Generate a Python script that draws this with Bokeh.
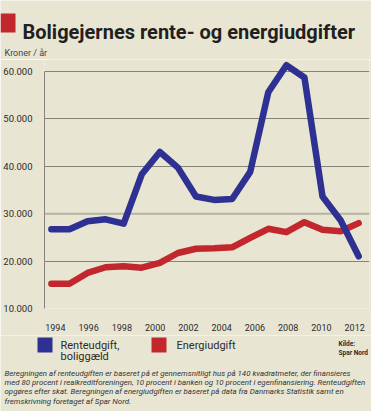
import numpy as np
from bokeh.plotting import figure
from bokeh.layouts import column
from bokeh.models import Label, BoxAnnotation, FixedTicker, Span, Range1d, CustomJSTickFormatter
from bokeh.embed import file_html
from bokeh.resources import INLINE

# ---- data ----
x_tick_labels = ["1994", "1996", "1998", "2000", "2002", "2004", "2006", "2008", "2010", "2012"]
y_ticks = [10000, 20000, 30000, 40000, 50000, 60000]
y_tick_labels = ["10.000", "20.000", "30.000", "40.000", "50.000", "60.000"]
renteudgift = [26700, 26700, 28400, 28800, 27900, 38300, 43000, 39700, 33600, 32900,
               33100, 38800, 55600, 61300, 58700, 33600, 28600, 21000]
energiudgift = [15200, 15200, 17500, 18700, 18900, 18600, 19600, 21700, 22600, 22700,
                22900, 24900, 26800, 26100, 28200, 26600, 26300, 28000]
series_labels = ["Renteudgift,\nboliggæld", "Energiudgift"]
title_text = "Boligejernes rente- og energiudgifter"
unit_text = "Kroner / år"
source_lines = ["Kilde:", "Spar Nord"]
notes = [
    "Beregningen af renteudgiften er baseret på et gennemsnitligt hus på 140 kvadratmeter, der finansieres",
    "med 80 procent i realkreditforeningen, 10 procent i banken og 10 procent i egenfinansiering. Renteudgiften",
    "opgøres efter skat. Beregningen af energiudgiften er baseret på data fra Danmarks Statistik samt en",
    "fremskrivning foretaget af Spar Nord.",
]

BG = "#e8e6d3"
BLUE = "#2e3192"
RED = "#c1272d"
GRID = "#85837a"
TXT = "#2b2b2b"
FONT = "Roboto"
W = 371


def no_align(f):
    try:
        f.frame_align = False
    except Exception:
        pass


def panel(h):
    f = figure(width=W, height=h, output_backend="svg", toolbar_location=None,
               x_range=Range1d(0, W), y_range=Range1d(0, h),
               x_axis_type=None, y_axis_type=None,
               min_border=0, min_border_left=0, min_border_right=0,
               min_border_top=0, min_border_bottom=0,
               background_fill_color=BG, border_fill_color=BG, outline_line_color=None)
    f.xgrid.visible = False
    f.ygrid.visible = False
    no_align(f)
    return f


def put_text(f, h, x, y, text, size, style="normal", color=TXT, baseline="middle"):
    f.add_layout(Label(x=x, y=h - y, text=text, text_font=FONT, text_font_size=size,
                       text_font_style=style, text_color=color, text_baseline=baseline))


def put_box(f, h, left, right, top, bottom, color):
    f.add_layout(BoxAnnotation(left=left, right=right, top=h - top, bottom=h - bottom,
                               fill_color=color, fill_alpha=1, line_color=None))


# ---- top: title ----
HT = 59
top = panel(HT)
put_box(top, HT, 0, 15, 13, 32, RED)
put_text(top, HT, 22, 31.5, title_text, "20px", style="bold", color="#231f20", baseline="alphabetic")
put_text(top, HT, 4, 52, unit_text, "9px", color="#444444")

# ---- main chart ----
FL, FR, FB = 39, 2, 27
HM = 249 + FB
idx = np.arange(len(renteudgift))
p = figure(width=W, height=HM, output_backend="svg", toolbar_location=None,
           x_range=Range1d(-0.381, 17.6), y_range=Range1d(10000, 62500),
           min_border_left=FL, min_border_right=FR, min_border_top=0, min_border_bottom=FB,
           background_fill_color=BG, border_fill_color=BG, outline_line_color=None)
no_align(p)

p.yaxis.ticker = FixedTicker(ticks=y_ticks)
p.yaxis.formatter = CustomJSTickFormatter(args=dict(labels=y_tick_labels), code="return labels[index];")
p.yaxis.bounds = (10000, 60000)
p.yaxis.axis_line_color = GRID
p.yaxis.axis_line_width = 1
p.yaxis.major_tick_line_color = None
p.yaxis.minor_tick_line_color = None
p.yaxis.major_label_standoff = 6
p.yaxis.major_label_text_font = FONT
p.yaxis.major_label_text_font_size = "9.5px"
p.yaxis.major_label_text_color = TXT

x_tick_pos = list(np.linspace(0.22, 16.78, len(x_tick_labels)))
p.xaxis.ticker = FixedTicker(ticks=x_tick_pos)
p.xaxis.formatter = CustomJSTickFormatter(args=dict(labels=x_tick_labels), code="return labels[index];")
p.xaxis.axis_line_color = None
p.xaxis.major_tick_line_color = None
p.xaxis.minor_tick_line_color = None
p.xaxis.major_label_standoff = 9
p.xaxis.major_label_text_font = FONT
p.xaxis.major_label_text_font_size = "9px"
p.xaxis.major_label_text_color = TXT

p.xgrid.grid_line_color = None
p.ygrid.ticker = FixedTicker(ticks=y_ticks)
p.ygrid.grid_line_color = GRID
p.ygrid.grid_line_width = 1
p.add_layout(Span(location=30000, dimension="width", line_color="#b4b2a4", line_width=2, level="underlay"))

p.line(idx, energiudgift, line_color=RED, line_width=6.5, line_join="round", line_cap="round")
p.line(idx, renteudgift, line_color=BLUE, line_width=6.5, line_join="round", line_cap="round")

# ---- bottom: legend, source, notes ----
HB = 76
bot = panel(HB)
put_box(bot, HB, 37, 52, 2, 17, BLUE)
put_box(bot, HB, 151, 166, 2, 17, RED)
for j, t in enumerate(series_labels[0].split("\n")):
    put_text(bot, HB, 60, 10 + 11 * j, t, "11px")
put_text(bot, HB, 176, 10, series_labels[1], "11px")
for j, t in enumerate(source_lines):
    put_text(bot, HB, 338, 8 + 9 * j, t, "6.5px", style="bold")
for i, line in enumerate(notes):
    put_text(bot, HB, 4, 37.7 + 9.3 * i, line, "7.9px", style="italic", color="#333333")

layout = column(top, p, bot, spacing=0)
open("out.html", "w").write(file_html(layout, INLINE))
